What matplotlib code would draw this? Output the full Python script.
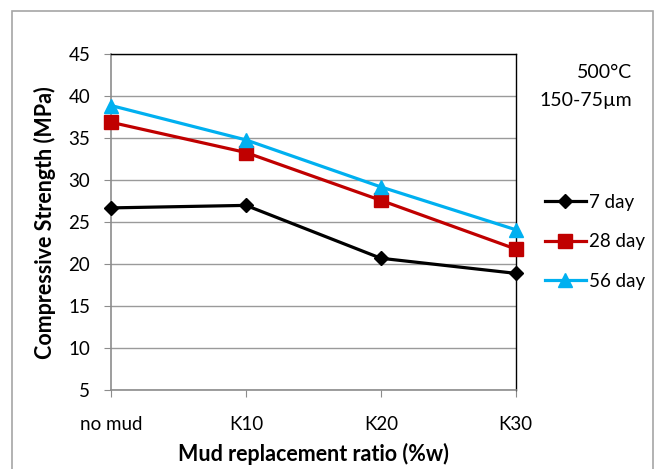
import matplotlib.pyplot as plt
from matplotlib.patches import Rectangle

categories = ["no mud", "K10", "K20", "K30"]
day7 = [26.7, 27.0, 20.7, 18.9]
day28 = [36.9, 33.3, 27.6, 21.8]
day56 = [38.9, 34.8, 29.2, 24.1]

plt.rcParams['font.family'] = ['Lato', 'DejaVu Sans']

fig = plt.figure(figsize=(6.57, 4.69), dpi=100)
ax = fig.add_axes([0.169, 0.1684, 0.616, 0.7158])

# outer chart border
fig.patches.append(Rectangle((12 / 657, -0.05), 641 / 657, 1 - 11 / 469 + 0.05,
                             transform=fig.transFigure, fill=False,
                             edgecolor='#A6A6A6', linewidth=1.2))

x = range(len(categories))
ax.plot(x, day7, color='black', lw=2.3, marker='D', ms=7, label='7 day', clip_on=False, zorder=3)
ax.plot(x, day28, color='#C00000', lw=2.3, marker='s', ms=10, label='28 day', clip_on=False, zorder=3)
ax.plot(x, day56, color='#00B0F0', lw=2.3, marker='^', ms=10, label='56 day', clip_on=False, zorder=3)

ax.set_xlim(0, 3)
ax.set_ylim(5, 45)
ax.set_yticks(range(5, 46, 5))
ax.set_xticks(list(x))
ax.set_xticklabels(categories)
ax.grid(axis='y', color='#9A9A9A', lw=1)
ax.set_axisbelow(True)

for s in ['left', 'bottom']:
    ax.spines[s].set_color('#8C8C8C')
    ax.spines[s].set_linewidth(1.2)
for s in ['top', 'right']:
    ax.spines[s].set_color('black')
    ax.spines[s].set_linewidth(1)

ax.tick_params(axis='y', direction='out', length=5, color='#8C8C8C', pad=10, labelsize=13.5)
ax.tick_params(axis='x', direction='out', length=5, color='#8C8C8C', pad=14, labelsize=13.5)

ax.set_ylabel('Compressive Strength (MPa)', fontsize=15.5, fontweight='bold', labelpad=9)
ax.set_xlabel('Mud replacement ratio (%w)', fontsize=15.5, fontweight='bold', labelpad=7)

fig.text(632 / 657, 1 - 73 / 469, '500°C', ha='right', va='center', fontsize=14)
fig.text(632 / 657, 1 - 100 / 469, '150-75µm', ha='right', va='center', fontsize=14)

ax.legend(loc='center left', bbox_to_anchor=(1.03, 0.441), frameon=False, fontsize=13.5,
          handlelength=2.2, handletextpad=0.15, labelspacing=1.2)

fig.savefig('out.png', dpi=100)
